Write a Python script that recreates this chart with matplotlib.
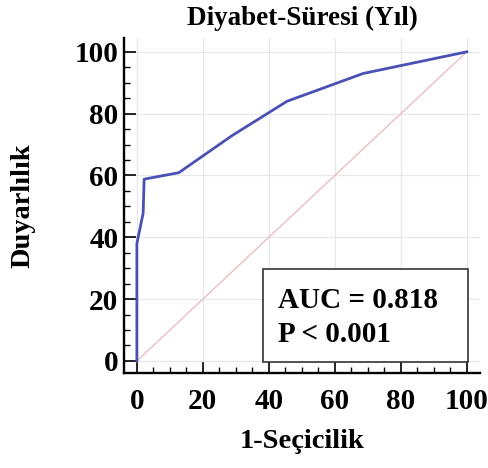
import matplotlib.pyplot as plt
from matplotlib.patches import Rectangle
from matplotlib.ticker import MultipleLocator

# ROC curve values (percent)
fpr = [0, 0, 1.9, 2.2, 12.7, 29, 45.5, 68.6, 100]
tpr = [0, 38, 47.8, 58.8, 60.9, 73, 84, 93, 100]
auc_lines = ["AUC = 0.818", "P < 0.001"]

plt.rcParams["font.family"] = ["Liberation Serif", "DejaVu Serif"]
plt.rcParams["font.weight"] = "bold"

fig = plt.figure(figsize=(4.89, 4.68), dpi=100)
ax = fig.add_axes([0.2536, 0.203, 0.728, 0.716])

ax.plot([0, 100], [0, 100], color="#e8b8bc", linewidth=0.9, zorder=2)
ax.plot(fpr, tpr, color="#4b50b4", linewidth=2.0, zorder=3)

ax.set_xlim(-3.9, 104)
ax.set_ylim(-3.9, 104.5)
ax.xaxis.set_major_locator(MultipleLocator(20))
ax.yaxis.set_major_locator(MultipleLocator(20))
ax.xaxis.set_minor_locator(MultipleLocator(5))
ax.yaxis.set_minor_locator(MultipleLocator(5))
ax.tick_params(which="major", direction="in", length=8.5, width=1.2, labelsize=21)
ax.tick_params(axis="x", which="major", pad=11)
ax.tick_params(axis="y", which="major", pad=4)
ax.tick_params(which="minor", direction="in", length=4.5, width=1.0)
ax.grid(True, which="major", color="#e8e8e8", linewidth=0.9)
ax.set_axisbelow(True)

for s in ["top", "right"]:
    ax.spines[s].set_visible(False)
for s in ["left", "bottom"]:
    ax.spines[s].set_linewidth(1.7)

ax.set_title("Diyabet-Süresi (Yıl)", fontsize=19.5, fontweight="bold", pad=9)
ax.set_xlabel("1-Seçicilik", fontsize=20.5, fontweight="bold", labelpad=10)
ax.set_ylabel("Duyarlılık", fontsize=20.5, fontweight="bold", labelpad=28)

# annotation box
ax.add_patch(Rectangle((38.2, -0.3), 62.1, 30.1, facecolor="white",
                       edgecolor="#333333", linewidth=1.2, zorder=4))
ax.text(42.7, 19.7, auc_lines[0], fontsize=21, fontweight="bold", va="center", ha="left", zorder=5)
ax.text(42.7, 8.4, auc_lines[1], fontsize=21, fontweight="bold", va="center", ha="left", zorder=5)

fig.savefig("out.png", dpi=100)
